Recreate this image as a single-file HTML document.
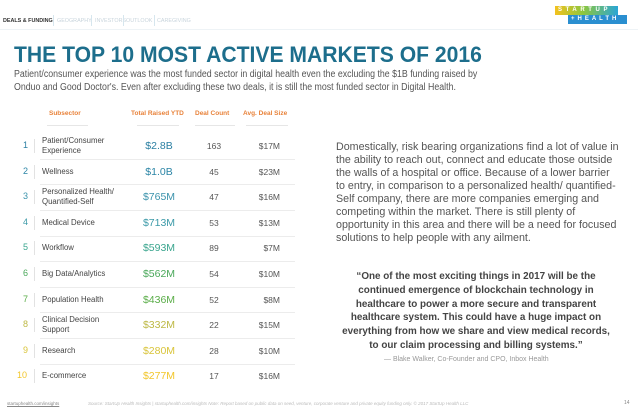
<!DOCTYPE html>
<html><head><meta charset="utf-8"><style>
*{margin:0;padding:0;box-sizing:border-box}
body{width:638px;height:413px;background:#fff;font-family:"Liberation Sans",sans-serif;position:relative;overflow:hidden;color:#555}
.a{position:absolute;white-space:nowrap}
.nav{top:18px;font-size:5.4px;color:#c8d4dc}
.sep{position:absolute;top:15px;width:1px;height:11px;background:#d6e6ee}
.hd{top:110px;font-size:6.5px;color:#e8823a;font-weight:bold}
.hu{position:absolute;top:125px;height:1px;background:#e6e6e6}
</style></head><body>
<div class="a nav" style="left:3px;color:#333;font-weight:bold">DEALS &amp; FUNDING</div>
<div class="sep" style="left:53px"></div>
<div class="a nav" style="left:57px">GEOGRAPHY</div>
<div class="sep" style="left:91px"></div>
<div class="a nav" style="left:95px">INVESTORS</div>
<div class="sep" style="left:123px"></div>
<div class="a nav" style="left:126px">OUTLOOK</div>
<div class="sep" style="left:154px"></div>
<div class="a nav" style="left:157px">CAREGIVING</div>
<div class="a" style="left:0;top:29px;width:638px;height:1px;background:#eef3f6"></div>
<div class="a" style="left:555px;top:6px;width:63px;height:9px;background:linear-gradient(90deg,#f4c21e,#8cc63e 45%,#2aa6d6);color:#fff;font-size:6px;font-weight:bold;letter-spacing:3.6px;line-height:9px;padding-left:3px;overflow:hidden">STARTUP</div>
<div class="a" style="left:568px;top:15px;width:59px;height:9px;background:#2a8fd0;color:#fff;font-size:6px;font-weight:bold;letter-spacing:3px;line-height:9px;padding-left:3px;overflow:hidden">+HEALTH</div>
<div class="a" style="left:14px;top:42px;font-size:22px;font-weight:bold;color:#1d6e8c;transform:scaleX(0.96);transform-origin:left">THE TOP 10 MOST ACTIVE MARKETS OF 2016</div>
<div class="a" style="left:14px;top:69px;font-size:10px;line-height:12.5px;color:#555;transform:scaleX(0.88);transform-origin:left">Patient/consumer experience was the most funded sector in digital health even the excluding the $1B funding raised by<br>Onduo and Good Doctor's. Even after excluding these two deals, it is still the most funded sector in Digital Health.</div>
<div class="a hd" style="left:49px">Subsector</div>
<div class="a hd" style="left:131px">Total Raised YTD</div>
<div class="a hd" style="left:195px">Deal Count</div>
<div class="a hd" style="left:243px">Avg. Deal Size</div>
<div class="hu" style="left:47px;width:41px"></div><div class="hu" style="left:137px;width:42px"></div><div class="hu" style="left:195px;width:40px"></div><div class="hu" style="left:246px;width:42px"></div>
<div id="tbl"></div>
<div class="a" style="left:336px;top:141px;font-size:10.7px;line-height:13px;color:#555">Domestically, risk bearing organizations find a lot of value in<br>the ability to reach out, connect and educate those outside<br>the walls of a hospital or office. Because of a lower barrier<br>to entry, in comparison to a personalized health/ quantified-<br>Self company, there are more companies emerging and<br>competing within the market. There is still plenty of<br>opportunity in this area and there will be a need for focused<br>solutions to help people with any ailment.</div>
<div class="a" style="left:320px;top:270px;width:312px;text-align:center;font-size:9.9px;line-height:13.8px;font-weight:bold;color:#444">“One of the most exciting things in 2017 will be the<br>continued emergence of blockchain technology in<br>healthcare to power a more secure and transparent<br>healthcare system. This could have a huge impact on<br>everything from how we share and view medical records,<br>to our claim processing and billing systems.”</div>
<div class="a" style="left:384px;top:356px;font-size:7px;color:#999">— Blake Walker, Co-Founder and CPO, Inbox Health</div>
<div class="a" style="left:7px;top:401px;font-size:4.5px;color:#888;text-decoration:underline">startuphealth.com/insights</div>
<div class="a" style="left:88px;top:401px;font-size:4.5px;font-style:italic;color:#bbb">Source: StartUp Health Insights | startuphealth.com/insights Note: Report based on public data on seed, venture, corporate venture and private equity funding only. © 2017 StartUp Health LLC</div>
<div class="a" style="left:624px;top:400px;font-size:5px;color:#888">14</div>
<script>
const ranks=[1,2,3,4,5,6,7,8,9,10];
const subsectors=["Patient/Consumer<br>Experience","Wellness","Personalized Health/<br>Quantified-Self","Medical Device","Workflow","Big Data/Analytics","Population Health","Clinical Decision<br>Support","Research","E-commerce"];
const totals=["$2.8B","$1.0B","$765M","$713M","$593M","$562M","$436M","$332M","$280M","$277M"];
const deals=["163","45","47","53","89","54","52","22","28","17"];
const avgs=["$17M","$23M","$16M","$13M","$7M","$10M","$8M","$15M","$10M","$16M"];
const colors=["#2b7fa2","#2b85a6","#3b93ac","#3c9aa8","#3aa58e","#4aa85a","#5aad48","#bdb844","#d9c43a","#f2c62a"];
const t=document.getElementById('tbl');
const top0=146,step=25.6;
ranks.forEach((r,i)=>{
 const cy=top0+i*step;
 const mk=(html,left,style)=>{const d=document.createElement('div');d.className='a';d.innerHTML=html;d.style.left=left+'px';d.style.cssText+=style;t.appendChild(d);return d;};
 const n=mk(r,r==10?17:23,'top:'+(cy-6)+'px;font-size:9px;color:'+colors[i]);
 
 
 const v=mk('',34,'top:'+(cy-7)+'px;width:1px;height:14px;background:#e2e2e2');
 
 
 const two=subsectors[i].includes('<br>');
 const s=mk(subsectors[i],42,'top:'+(cy-(two?10:5))+'px;font-size:7.8px;line-height:10px;color:#444');
 
 
 const tv=mk(totals[i],138,'top:'+(cy-6)+'px;width:42px;text-align:center;font-size:10.5px;color:'+colors[i]);
 
 
 const dc=mk(deals[i],200,'top:'+(cy-5)+'px;width:28px;text-align:center;font-size:8.5px;color:#555');
 
 
 const av=mk(avgs[i],250,'top:'+(cy-5)+'px;width:30px;text-align:right;font-size:8.5px;color:#555');
 
 
 if(i<9){const l=mk('',40,'top:'+Math.round(cy+step/2)+'px;width:255px;height:1px;background:#ececec');
 
 }
});
</script>
</body></html>
